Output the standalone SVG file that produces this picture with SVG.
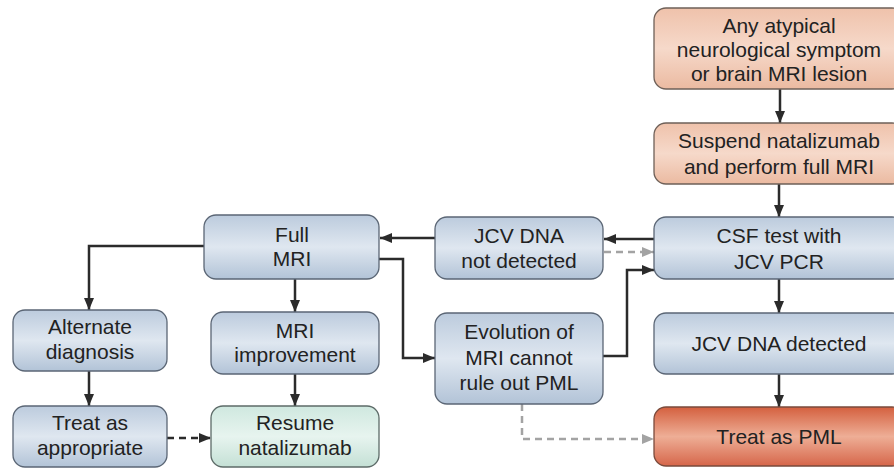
<svg xmlns="http://www.w3.org/2000/svg" width="894" height="468" viewBox="0 0 894 468">
<defs>
<linearGradient id="gBlue" x1="0" y1="0" x2="0" y2="1">
<stop offset="0" stop-color="#bccbdd"/><stop offset="0.5" stop-color="#dfe7f0"/><stop offset="1" stop-color="#b2c3d7"/>
</linearGradient>
<linearGradient id="gPeach" x1="0" y1="0" x2="0" y2="1">
<stop offset="0" stop-color="#efc2ab"/><stop offset="0.5" stop-color="#f6d9ca"/><stop offset="1" stop-color="#ebbaa1"/>
</linearGradient>
<linearGradient id="gRed" x1="0" y1="0" x2="0" y2="1">
<stop offset="0" stop-color="#d4603f"/><stop offset="0.5" stop-color="#eeae96"/><stop offset="1" stop-color="#d6664a"/>
</linearGradient>
<linearGradient id="gGreen" x1="0" y1="0" x2="0" y2="1">
<stop offset="0" stop-color="#cfe8df"/><stop offset="0.5" stop-color="#e7f4ef"/><stop offset="1" stop-color="#c4e0d5"/>
</linearGradient>
<marker id="ah" markerUnits="userSpaceOnUse" markerWidth="13" markerHeight="10" refX="12" refY="5" orient="auto">
<path d="M0,0 L12,5 L0,10 z" fill="#2b2b2b"/>
</marker>
<marker id="ahg" markerUnits="userSpaceOnUse" markerWidth="13" markerHeight="10" refX="12" refY="5" orient="auto">
<path d="M0,0 L12,5 L0,10 z" fill="#a3a3a3"/>
</marker>
</defs>
<style>
.box{stroke:#5b6675;stroke-width:1.3}
.blue{fill:url(#gBlue)}
.peach{fill:url(#gPeach);stroke:#6e6058}
.red{fill:url(#gRed);stroke:#7a4b3c}
.green{fill:url(#gGreen);stroke:#5d6b68}
text{font-family:"Liberation Sans",Arial,sans-serif;font-size:21px;fill:#222;text-anchor:middle}
.c{fill:none;stroke:#2b2b2b;stroke-width:2.5;marker-end:url(#ah)}
.cd{fill:none;stroke:#2b2b2b;stroke-width:2.5;stroke-dasharray:7,5;marker-end:url(#ah)}
.cg{fill:none;stroke:#a3a3a3;stroke-width:2.5;stroke-dasharray:7,5;marker-end:url(#ahg)}
</style>
<g id="connectors">
<path class="c" d="M780,89 V123"/>
<path class="c" d="M779,184 V217"/>
<path class="c" d="M654,239 H604"/>
<path class="cg" d="M604,252 H654"/>
<path class="c" d="M435,238 H380"/>
<path class="c" d="M379,259 H403 V358 H435"/>
<path class="c" d="M603,356 H627 V270 H654"/>
<path class="cg" d="M522,404 V439 H654"/>
<path class="c" d="M779,279 V313"/>
<path class="c" d="M779,374 V407"/>
<path class="c" d="M204,246 H89 V310"/>
<path class="c" d="M295,279 V312"/>
<path class="c" d="M89,371 V406"/>
<path class="c" d="M295,374 V406"/>
<path class="cd" d="M167,438 H211"/>
</g>
<g id="n_atypical"><rect class="box peach" x="654" y="8" width="250" height="81" rx="12"/>
<text x="779" y="32.5">Any atypical</text><text x="779" y="56.5">neurological symptom</text><text x="779" y="80.5">or brain MRI lesion</text></g>
<g id="n_suspend"><rect class="box peach" x="654" y="123" width="250" height="61" rx="12"/>
<text x="779" y="147.5">Suspend natalizumab</text><text x="779" y="174">and perform full MRI</text></g>
<g id="n_csf"><rect class="box blue" x="654" y="217" width="250" height="62" rx="12"/>
<text x="779" y="243">CSF test with</text><text x="779" y="269">JCV PCR</text></g>
<g id="n_detected"><rect class="box blue" x="654" y="313" width="250" height="61" rx="12"/>
<text x="779" y="351">JCV DNA detected</text></g>
<g id="n_pml"><rect class="box red" x="654" y="407" width="250" height="59" rx="12"/>
<text x="779" y="444">Treat as PML</text></g>
<g id="n_notdetected"><rect class="box blue" x="435" y="217" width="168" height="62" rx="12"/>
<text x="519" y="243">JCV DNA</text><text x="519" y="268">not detected</text></g>
<g id="n_evolution"><rect class="box blue" x="435" y="313" width="168" height="91" rx="12"/>
<text x="519" y="339">Evolution of</text><text x="519" y="365">MRI cannot</text><text x="519" y="390">rule out PML</text></g>
<g id="n_fullmri"><rect class="box blue" x="204" y="215" width="175" height="64" rx="12"/>
<text x="292" y="242">Full</text><text x="292" y="266">MRI</text></g>
<g id="n_alternate"><rect class="box blue" x="13" y="310" width="154" height="61" rx="12"/>
<text x="90" y="334">Alternate</text><text x="90" y="359">diagnosis</text></g>
<g id="n_improvement"><rect class="box blue" x="211" y="312" width="168" height="62" rx="12"/>
<text x="295" y="338">MRI</text><text x="295" y="362">improvement</text></g>
<g id="n_treatapp"><rect class="box blue" x="13" y="406" width="154" height="61" rx="12"/>
<text x="90" y="430">Treat as</text><text x="90" y="455">appropriate</text></g>
<g id="n_resume"><rect class="box green" x="211" y="406" width="168" height="61" rx="12"/>
<text x="295" y="430">Resume</text><text x="295" y="455">natalizumab</text></g>
</svg>
